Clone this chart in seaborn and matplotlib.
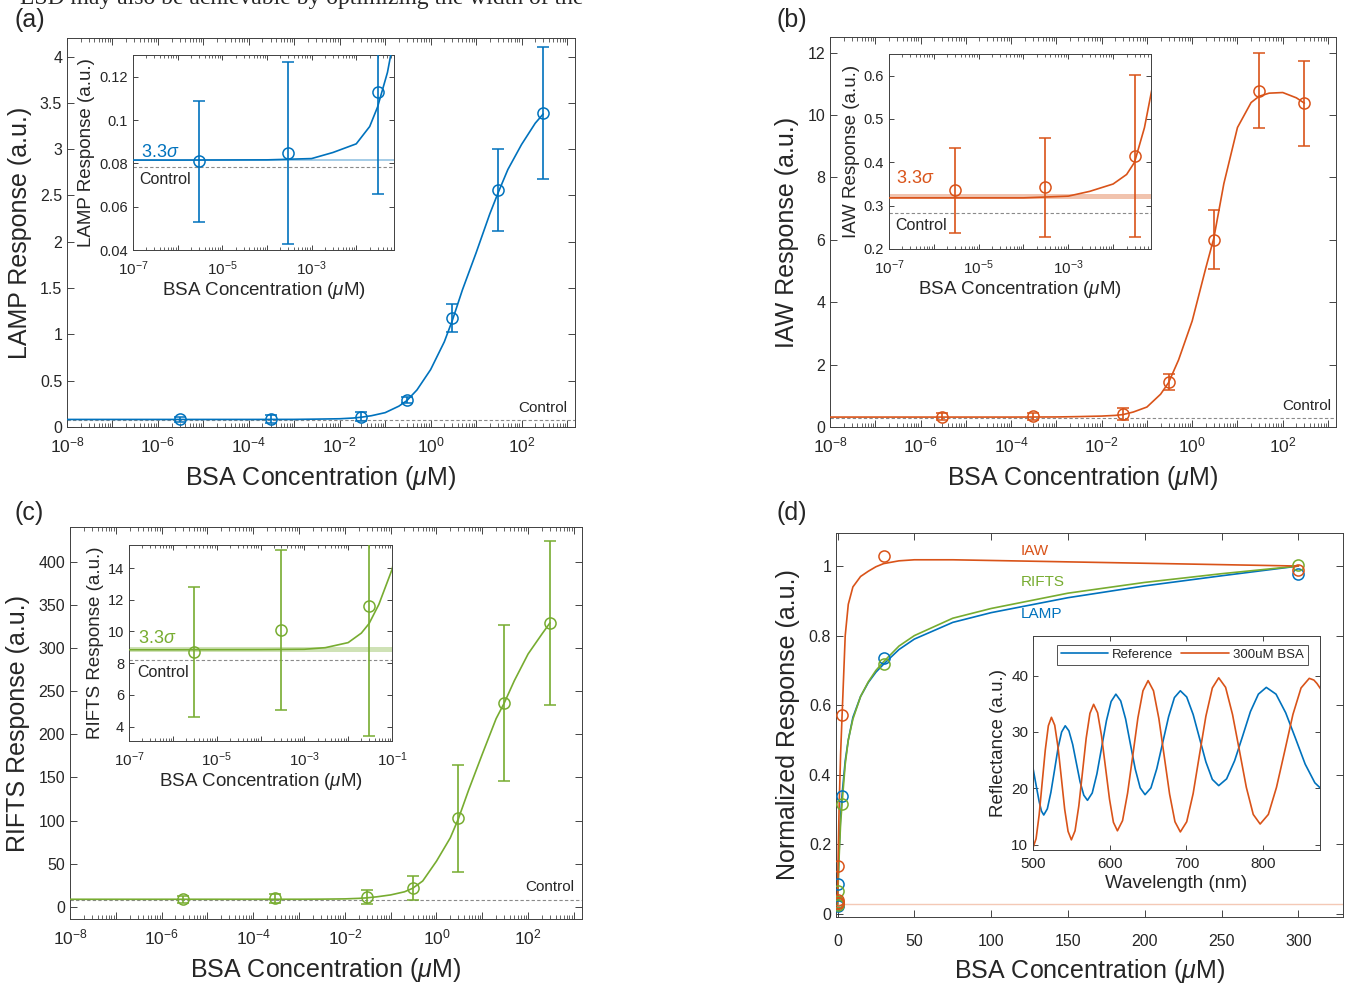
import numpy as np
import matplotlib
matplotlib.use("Agg")
import matplotlib.pyplot as plt
import matplotlib.ticker as mticker
import seaborn as sns

# concentrations of the measured points (uM)
conc = [3e-6, 3e-4, 3e-2, 0.3, 3, 30, 300]

# measured responses and error bars
lamp_mean = [0.081, 0.085, 0.113, 0.29, 1.18, 2.56, 3.39]
lamp_err = [0.028, 0.042, 0.047, 0.03, 0.15, 0.44, 0.71]
iaw_mean = [0.335, 0.342, 0.415, 1.45, 6.0, 10.78, 10.37]
iaw_err = [0.098, 0.114, 0.187, 0.25, 0.95, 1.2, 1.35]
rifts_mean = [8.7, 10.1, 11.6, 22, 102.5, 236, 329]
rifts_err = [4.1, 5.05, 8.2, 13.7, 62, 90, 95]

# control level and 3.3 sigma band (low, high)
lamp_control, lamp_band = 0.0785, (0.0812, 0.0818)
iaw_control, iaw_band = 0.283, (0.316, 0.326)
rifts_control, rifts_band = 8.2, (8.7, 9.0)

# fitted curves
fit_x = [1e-8, 1e-6, 1e-4, 1e-3, 3e-3, 1e-2, 2e-2, 3e-2, 5e-2, 0.1, 0.2, 0.3, 0.5,
         1, 2, 3, 5, 10, 20, 30, 50, 100, 200, 300]
lamp_fit = [0.0815, 0.0815, 0.0816, 0.0822, 0.085, 0.089, 0.097, 0.106, 0.122, 0.155,
            0.225, 0.285, 0.40, 0.62, 0.92, 1.15, 1.48, 1.88, 2.30, 2.52, 2.78, 3.05, 3.28, 3.38]
iaw_fit = [0.318, 0.318, 0.318, 0.322, 0.333, 0.35, 0.372, 0.40, 0.48, 0.64,
           1.05, 1.42, 2.15, 3.4, 5.1, 6.05, 7.8, 9.6, 10.4, 10.6, 10.70, 10.72, 10.55, 10.38]
rifts_fit = [8.85, 8.85, 8.86, 8.88, 8.98, 9.3, 9.9, 10.5, 11.7, 13.9,
             17.5, 21.5, 30, 53, 80, 102, 135, 177, 218, 236, 262, 293, 316, 329]

# panel (d): normalized responses
d_conc = [3e-6, 3e-4, 3e-2, 0.3, 3, 30, 300]
lamp_norm = [0.024, 0.025, 0.033, 0.085, 0.34, 0.737, 0.977]
iaw_norm = [0.030, 0.032, 0.040, 0.137, 0.572, 1.03, 0.99]
rifts_norm = [0.026, 0.030, 0.035, 0.066, 0.315, 0.717, 1.003]
d_fit_x = [0, 0.3, 1, 2, 3, 5, 7, 10, 15, 20, 25, 30, 40, 50, 75, 100, 150, 200, 250, 300]
lamp_norm_fit = [0.024, 0.085, 0.18, 0.28, 0.345, 0.44, 0.50, 0.565, 0.625, 0.665, 0.695, 0.718,
                 0.76, 0.79, 0.838, 0.866, 0.909, 0.943, 0.972, 1.0]
rifts_norm_fit = [0.026, 0.07, 0.16, 0.26, 0.32, 0.43, 0.50, 0.56, 0.625, 0.667, 0.70, 0.725,
                  0.77, 0.80, 0.85, 0.878, 0.922, 0.953, 0.978, 1.0]
iaw_norm_fit = [0.03, 0.14, 0.30, 0.46, 0.575, 0.80, 0.89, 0.94, 0.97, 0.985, 0.998, 1.007,
                1.015, 1.018, 1.018, 1.016, 1.012, 1.008, 1.004, 1.0]
iaw_norm_threshold = 0.027

# reflectance spectra (inset d)
ref_wl = [500, 504, 508, 511, 514, 518.7, 523.3, 528, 532.7, 537.3, 542, 546.8, 551.7, 556.5,
          561.3, 566.2, 571, 577.2, 583.3, 589.5, 595.7, 601.8, 608, 614.3, 620.7, 627, 633.3,
          639.7, 646, 653.7, 661.3, 669, 676.7, 684.3, 692, 700.3, 708.7, 717, 725.3, 733.7, 742,
          752.3, 762.7, 773, 783.3, 793.7, 804, 816.7, 829.3, 842, 854.7, 867.3, 875]
ref_refl = [23.6, 20.6, 17.7, 16.0, 15.3, 16.4, 19.3, 23.2, 27.2, 30.0, 31.1, 30.2, 27.8, 24.5,
            21.2, 18.8, 17.9, 19.2, 22.6, 27.3, 32.0, 35.4, 36.7, 35.5, 32.3, 27.8, 23.4,
            20.1, 18.9, 20.1, 23.5, 28.1, 32.7, 36.1, 37.3, 36.2, 33.1, 28.9, 24.7, 21.6, 20.5,
            21.7, 24.9, 29.2, 33.6, 36.7, 37.9, 36.7, 33.4, 28.9, 24.3, 21.0, 20.0]
bsa_wl = [500, 504, 508, 512, 516, 520, 524, 528.3, 532.7, 537, 541.3, 545.7, 550, 554.8, 559.7,
          564.5, 569.3, 574.2, 579, 584.2, 589.3, 594.5, 599.7, 604.8, 610, 616.7, 623.3, 630,
          636.7, 643.3, 650, 657, 664, 671, 678, 685, 692, 700.3, 708.7, 717, 725.3, 733.7, 742,
          751, 760, 769, 778, 787, 796, 806.7, 817.3, 828, 838.7, 849.3, 860, 866, 870, 875]
bsa_refl = [9.5, 11.1, 15.3, 21.1, 26.8, 31.1, 32.6, 31.2, 27.2, 21.8, 16.3, 12.4, 10.9, 12.5, 16.9,
            22.9, 28.9, 33.3, 34.9, 33.4, 29.3, 23.7, 18.1, 14.0, 12.5, 14.3, 19.2, 25.8,
            32.5, 37.3, 39.1, 37.3, 32.4, 25.7, 19.0, 14.1, 12.3, 14.1, 19.1, 26.0, 32.8, 37.8, 39.6,
            37.9, 33.1, 26.7, 20.2, 15.4, 13.7, 15.4, 20.2, 26.6, 33.1, 37.8, 39.5, 39.2, 38.6, 37.6]

BLUE, ORANGE, GREEN = '#0072BD', '#D95319', '#77AC30'
TXT = '#262626'
XLAB = r'BSA Concentration ($\mu$M)'

sns.set_theme(style='ticks')
plt.rcParams['font.family'] = ['Liberation Sans', 'DejaVu Sans']
plt.rcParams.update({
    'mathtext.fontset': 'custom',
    'mathtext.rm': 'Liberation Sans',
    'mathtext.it': 'Liberation Sans:italic',
    'axes.edgecolor': '#404040', 'axes.linewidth': 0.7,
    'axes.labelcolor': TXT, 'text.color': TXT,
    'xtick.color': TXT, 'ytick.color': TXT,
    'xtick.direction': 'in', 'ytick.direction': 'in',
    'xtick.top': True, 'ytick.right': True,
    'xtick.major.width': 0.6, 'ytick.major.width': 0.6,
    'xtick.minor.width': 0.5, 'ytick.minor.width': 0.5,
})


def log_ticks(ax, parity, small):
    ax.set_xscale('log')
    ax.xaxis.set_major_locator(mticker.LogLocator(base=10, subs=(1.0,), numticks=40))
    ax.xaxis.set_minor_locator(mticker.LogLocator(base=10, subs=np.arange(2, 10), numticks=40))

    def fmt(v, pos):
        e = int(round(np.log10(v)))
        return r'$\mathdefault{10^{%d}}$' % e if e % 2 == parity else ''
    ax.xaxis.set_major_formatter(mticker.FuncFormatter(fmt))
    ax.xaxis.set_minor_formatter(mticker.NullFormatter())
    size = 3.5 if small else 5
    ax.tick_params(axis='x', which='major', length=size, labelsize=11 if small else 12.5,
                   pad=7 if small else 6)
    ax.tick_params(which='minor', length=size * 0.55)


gfmt = mticker.FuncFormatter(lambda v, p: '%g' % round(v, 6))


def sensor_panel(fig, rect, irect, color, means, errs, fit, control, band, name,
                 ylim, yticks, iylim, iyticks, ixmax, ctrl_pos, sig_pos, ictrl_pos):
    ax = fig.add_axes(rect)
    ins = fig.add_axes(irect)
    for a, small in ((ax, False), (ins, True)):
        log_ticks(a, 1 if small else 0, small)
        a.axhline(control, ls=(0, (3, 2)), color='#8a8a8a', lw=0.8, zorder=1)
        sns.lineplot(x=fit_x, y=fit, ax=a, color=color, lw=1.2, estimator=None,
                     sort=False, zorder=3)
        a.errorbar(conc, means, yerr=errs, fmt='o', ms=8, mfc='none', mec=color,
                   mew=1.1, ecolor=color, elinewidth=1.2, capsize=4, capthick=1.2, zorder=4)
        a.yaxis.set_major_formatter(gfmt)
    ins.axhspan(band[0], band[1], color=color, alpha=0.35, lw=0, zorder=2)

    ax.set_xlim(1e-8, 1.5e3)
    ax.set_ylim(*ylim)
    ax.set_yticks(yticks)
    ax.set_xlabel(XLAB, fontsize=18, labelpad=6)
    ax.set_ylabel(name + ' Response (a.u.)', fontsize=18, labelpad=6)
    ax.tick_params(axis='y', length=5, labelsize=11.5)
    ax.text(ctrl_pos[0], ctrl_pos[1], 'Control', transform=ax.transAxes,
            ha='right', va='center', fontsize=11)

    ins.set_xlim(1e-7, ixmax)
    ins.set_ylim(*iylim)
    ins.set_yticks(iyticks)
    ins.tick_params(axis='y', length=3.5, labelsize=10.5)
    ins.set_xlabel(XLAB, fontsize=13.5, labelpad=1)
    ins.set_ylabel(name + ' Response (a.u.)', fontsize=13.5, labelpad=3)
    ins.text(sig_pos[0], sig_pos[1], r'3.3$\sigma$', transform=ins.transAxes,
             color=color, fontsize=13, ha='left', va='center')
    ins.text(ictrl_pos[0], ictrl_pos[1], 'Control', transform=ins.transAxes,
             fontsize=11.5, ha='left', va='center')
    return ax, ins


W, H = 1346, 984
fig = plt.figure(figsize=(W / 100, H / 100), dpi=100)


def box(x0, y0, x1, y1):
    return [x0 / W, 1 - y1 / H, (x1 - x0) / W, (y1 - y0) / H]


sensor_panel(fig, box(67, 38, 575, 427), box(133, 55, 394, 250), BLUE, lamp_mean, lamp_err,
             lamp_fit, lamp_control, lamp_band, 'LAMP', (0, 4.2), np.arange(0, 4.01, 0.5),
             (0.04, 0.13), [0.04, 0.06, 0.08, 0.1, 0.12], 0.07,
             (0.985, 0.049), (0.03, 0.50), (0.025, 0.36))
sensor_panel(fig, box(830, 37, 1336, 427), box(889, 54, 1151, 249), ORANGE, iaw_mean, iaw_err,
             iaw_fit, iaw_control, iaw_band, 'IAW', (0, 12.5), np.arange(0, 12.1, 2),
             (0.2, 0.65), [0.2, 0.3, 0.4, 0.5, 0.6], 0.07,
             (0.99, 0.054), (0.027, 0.36), (0.023, 0.118))
sensor_panel(fig, box(70, 527, 582, 919), box(129, 545, 392, 741), GREEN, rifts_mean, rifts_err,
             rifts_fit, rifts_control, rifts_band, 'RIFTS', (-14, 440), np.arange(0, 401, 50),
             (3.1, 15.45), [4, 6, 8, 10, 12, 14], 0.1,
             (0.984, 0.082), (0.034, 0.525), (0.03, 0.347))

# panel (d)
axd = fig.add_axes(box(836, 533, 1343, 917))
axd.axhline(iaw_norm_threshold, color='#f4c9b6', lw=1, zorder=1)
for fit, pts, col in ((lamp_norm_fit, lamp_norm, BLUE), (rifts_norm_fit, rifts_norm, GREEN),
                      (iaw_norm_fit, iaw_norm, ORANGE)):
    sns.lineplot(x=d_fit_x, y=fit, ax=axd, color=col, lw=1.2, estimator=None, sort=False, zorder=3)
    axd.plot(d_conc, pts, 'o', ms=8, mfc='none', mec=col, mew=1.1, zorder=4)
axd.set_xlim(-1, 329)
axd.set_ylim(-0.009, 1.095)
axd.set_xticks(np.arange(0, 301, 50))
axd.set_yticks(np.arange(0, 1.01, 0.2))
axd.yaxis.set_major_formatter(gfmt)
axd.tick_params(length=5, labelsize=11.5)
axd.tick_params(axis='x', pad=12)
axd.set_xlabel(XLAB, fontsize=18, labelpad=6)
axd.set_ylabel('Normalized Response (a.u.)', fontsize=18, labelpad=6)
axd.text(119, 1.043, 'IAW', color=ORANGE, fontsize=11, va='center')
axd.text(119, 0.954, 'RIFTS', color=GREEN, fontsize=11, va='center')
axd.text(119, 0.862, 'LAMP', color=BLUE, fontsize=11, va='center')

insd = fig.add_axes(box(1033, 636, 1320, 850))
sns.lineplot(x=ref_wl, y=ref_refl, ax=insd, color=BLUE, lw=1.2, estimator=None, sort=False,
             label='Reference')
sns.lineplot(x=bsa_wl, y=bsa_refl, ax=insd, color=ORANGE, lw=1.2, estimator=None, sort=False,
             label='300uM BSA')
insd.set_xlim(500, 874)
insd.set_ylim(9.1, 47)
insd.set_xticks([500, 600, 700, 800])
insd.set_yticks([10, 20, 30, 40])
insd.tick_params(length=3.5, labelsize=11)
insd.tick_params(axis='x', pad=5)
insd.set_xlabel('Wavelength (nm)', fontsize=13.5, labelpad=3)
insd.set_ylabel('Reflectance (a.u.)', fontsize=13.5, labelpad=3)
leg = insd.legend(loc='upper center', bbox_to_anchor=(0.52, 0.96), ncol=2, fontsize=9.5,
                  frameon=True, fancybox=False, handlelength=3.6, columnspacing=0.6,
                  borderpad=0.3, handletextpad=0.3, borderaxespad=0)
leg.get_frame().set_edgecolor('#262626')
leg.get_frame().set_linewidth(0.7)

# panel letters and the clipped line of page text at the top
for lab, x, y in (('(a)', 14, 20), ('(b)', 777, 20), ('(c)', 14, 513), ('(d)', 777, 513)):
    fig.text(x / W, 1 - y / H, lab, fontsize=18, va='center', ha='left')
fig.text(20 / W, 1 - 4 / H, 'LSD may also be achievable by optimizing the width of the',
         family=['Liberation Serif', 'DejaVu Serif'], fontsize=17, va='baseline', ha='left')

fig.savefig('out.png', dpi=100)
plt.close(fig)
